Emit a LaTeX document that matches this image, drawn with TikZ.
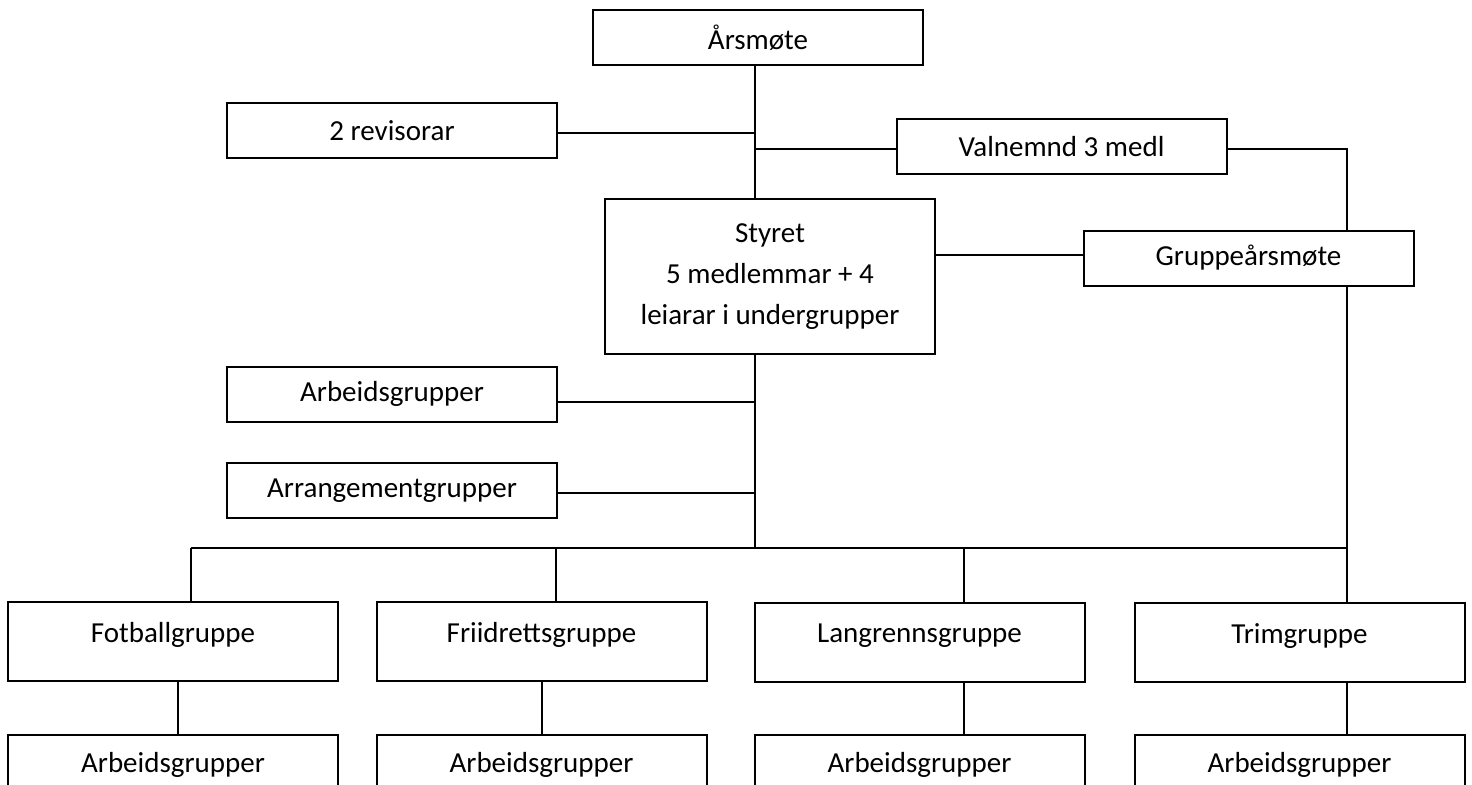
\documentclass[tikz,border=0pt]{standalone}
\usepackage{fontspec}
\setmainfont{Carlito}

\tikzset{every picture/.style={line width=1.5pt}}
\tikzset{
  boks/.style={draw, rectangle, inner sep=0pt, minimum width=247.5pt, minimum height=41.25pt,
    font=\fontsize{21.75}{30.75}\selectfont, align=center},
  styreboks/.style={boks, minimum height=116.25pt},
  gruppeboks/.style={boks, minimum height=59.25pt, text depth=14pt},
  underboks/.style={boks, minimum height=45pt},
}

\begin{document}
\begin{tikzpicture}[x=0.75pt,y=0.75pt,yscale=-1,xscale=1]
	\path[use as bounding box, clip] (0,0) rectangle (1472,785);

	% Text Node
	\node[boks] (aarsmote) at (758,37.5) {Årsmøte};
	% Text Node
	\node[boks] (revisor) at (392,130.5) {2 revisorar};
	% Text Node
	\node[boks] (valnemnd) at (1061.5,146.5) {Valnemnd 3 medl};
	% Text Node
	\node[styreboks] (styret) at (770,276.5) {Styret\\5 medlemmar + 4\\leiarar i undergrupper};
	% Text Node
	\node[boks] (gruppeaarsmote) at (1248.5,258) {Gruppeårsmøte};
	% Text Node
	\node[boks] (arbeid) at (392,394) {Arbeidsgrupper};
	% Text Node
	\node[boks] (arrangement) at (392,490.5) {Arrangementgrupper};
	% Text Node
	\node[gruppeboks] (fotball) at (173,641.5) {Fotballgruppe};
	\node[gruppeboks] (friidrett) at (541.5,641.5) {Friidrettsgruppe};
	\node[gruppeboks] (langrenn) at (919.5,642.5) {Langrennsgruppe};
	\node[gruppeboks] (trim) at (1299.5,642.5) {Trimgruppe};
	% Text Node
	\node[underboks] (arbeidfotball) at (173,765) {Arbeidsgrupper};
	\node[underboks] (arbeidfriidrett) at (541.5,765) {Arbeidsgrupper};
	\node[underboks] (arbeidlangrenn) at (919.5,765) {Arbeidsgrupper};
	\node[underboks] (arbeidtrim) at (1299.5,765) {Arbeidsgrupper};

	% Coordinates for the lines
	\coordinate (trunk) at (755,548);
	\coordinate (hoegre) at (1347,548);
	\coordinate (dropfotball) at (191,548);
	\coordinate (dropfriidrett) at (556,548);
	\coordinate (droplangrenn) at (964,548);
	\coordinate (linefotball) at (178,548);

	%Straight Lines
	\draw (aarsmote.south -| trunk) -- (styret.north -| trunk);
	\draw ([yshift=2]revisor.east) -- ([yshift=2]revisor.east -| trunk);
	\draw ([yshift=2]valnemnd.west -| trunk) -- ([yshift=2]valnemnd.west);
	\draw ([yshift=2]valnemnd.east) -- ([yshift=2]valnemnd.east -| hoegre) -- (gruppeaarsmote.north -| hoegre);
	\draw ([yshift=-2.5]gruppeaarsmote.west -| styret.east) -- ([yshift=-2.5]gruppeaarsmote.west);
	\draw (styret.south -| trunk) -- (trunk);
	\draw ([yshift=6]arbeid.east) -- ([yshift=6]arbeid.east -| trunk);
	\draw ([yshift=1.5]arrangement.east) -- ([yshift=1.5]arrangement.east -| trunk);
	%Straight Lines: bus
	\draw (dropfotball) -- (hoegre);
	\draw (gruppeaarsmote.south -| hoegre) -- (trim.north -| hoegre);
	\draw (dropfotball) -- (fotball.north -| dropfotball);
	\draw (dropfriidrett) -- (friidrett.north -| dropfriidrett);
	\draw (droplangrenn) -- (langrenn.north -| droplangrenn);
	%Straight Lines: down to Arbeidsgrupper
	\draw (fotball.south -| linefotball) -- (arbeidfotball.north -| linefotball);
	\draw (friidrett.south) -- (arbeidfriidrett.north);
	\draw (langrenn.south -| droplangrenn) -- (arbeidlangrenn.north -| droplangrenn);
	\draw (trim.south -| hoegre) -- (arbeidtrim.north -| hoegre);

\end{tikzpicture}
\end{document}
